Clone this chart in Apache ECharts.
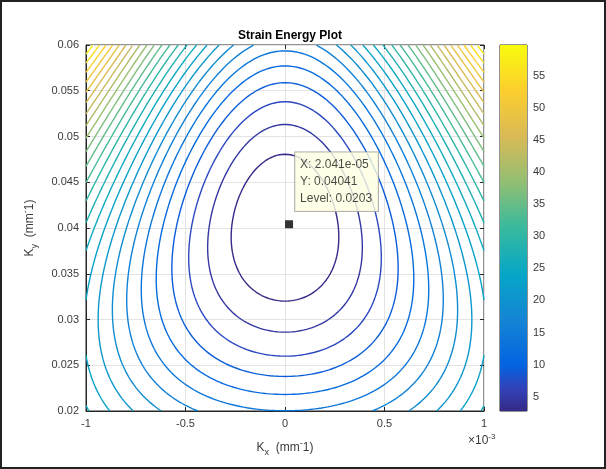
<!DOCTYPE html>
<html>
<head>
<meta charset="utf-8">
<script src="https://cdn.jsdelivr.net/npm/echarts@6/dist/echarts.min.js"></script>
<style>
html, body { margin: 0; padding: 0; background: #fff; }
#chart { width: 606px; height: 469px; }
</style>
</head>
<body>
<div id="chart"></div>
<script>
// Axis ranges and ticks
const kxRange = [-0.001, 0.001];
const kyRange = [0.02, 0.06];
const kxInterval = 0.0005;
const kyInterval = 0.005;
const colorbarTicks = [5, 10, 15, 20, 25, 30, 35, 40, 45, 50, 55];
const colorRange = [2.78, 59.8];

// Contour levels of the strain energy
const levels = [2.32, 4.62, 6.92, 9.22, 11.52, 13.82, 16.12, 18.42, 20.72, 23.02,
  25.32, 27.62, 29.92, 32.22, 34.52, 36.82, 39.12, 41.42, 43.72, 46.02,
  48.32, 50.62, 52.92, 55.22, 57.52, 59.82];

// Strain energy surface: W = energyMin + sum(coef * u^p * w^q)
// with u = Kx / 1e-3 and w = (Ky - kyRef) / kyScale
const energyMin = 0.0203;
const kyRef = 0.0401;
const kyScale = 0.02;
const termPowers = [[2, 0], [0, 2], [2, 1], [2, 2], [4, 0], [4, 1], [0, 3]];
const termCoefs = [32.4, 14.3, 21.9, 1.4, -5.2, -5.2, 0.6];

// Data cursor
const tipPoint = [2.041e-05, 0.04041];
const tipLevel = 0.0203;

// parula colour map
const parulaStops = ['#352a87', '#3243ba', '#0363e1', '#1485d4', '#06a7c6', '#38b99e',
  '#92bf73', '#d9ba56', '#fcce2e', '#f9fb0e'];
const parulaOffsets = [0, 0.0635, 0.125, 0.25, 0.375, 0.5, 0.625, 0.75, 0.875, 1];

function hexToRgb(h) {
  return [parseInt(h.slice(1, 3), 16), parseInt(h.slice(3, 5), 16), parseInt(h.slice(5, 7), 16)];
}
function parula(t) {
  t = Math.max(0, Math.min(1, t));
  let k = 0;
  while (k < parulaOffsets.length - 2 && t > parulaOffsets[k + 1]) k++;
  const f = (t - parulaOffsets[k]) / (parulaOffsets[k + 1] - parulaOffsets[k]);
  const a = hexToRgb(parulaStops[k]), b = hexToRgb(parulaStops[k + 1]);
  const c = a.map((v, i) => Math.round(v + (b[i] - v) * f));
  return 'rgb(' + c.join(',') + ')';
}

function energy(kx, ky) {
  const u = kx / 1e-3, w = (ky - kyRef) / kyScale;
  let s = energyMin;
  for (let t = 0; t < termPowers.length; t++) {
    s += termCoefs[t] * Math.pow(u, termPowers[t][0]) * Math.pow(w, termPowers[t][1]);
  }
  return s;
}

// Sample the surface on a regular mesh
const N = 240;
const xs = [], ys = [];
for (let i = 0; i <= N; i++) {
  xs.push(kxRange[0] + (kxRange[1] - kxRange[0]) * i / N);
  ys.push(kyRange[0] + (kyRange[1] - kyRange[0]) * i / N);
}
const Z = ys.map(y => xs.map(x => energy(x, y)));

// Marching squares, segments joined into polylines
function contourLines(level) {
  const segs = [];
  const pts = new Map();
  const hId = (i, j) => 2 * (j * (N + 1) + i);
  const vId = (i, j) => 2 * (j * (N + 1) + i) + 1;
  function ep(id, x0, y0, v0, x1, y1, v1) {
    if (!pts.has(id)) {
      const t = (level - v0) / (v1 - v0);
      pts.set(id, [x0 + t * (x1 - x0), y0 + t * (y1 - y0)]);
    }
    return id;
  }
  for (let j = 0; j < N; j++) {
    for (let i = 0; i < N; i++) {
      const va = Z[j][i], vb = Z[j][i + 1], vc = Z[j + 1][i + 1], vd = Z[j + 1][i];
      const cr = [];
      if ((va < level) !== (vb < level)) cr.push(ep(hId(i, j), xs[i], ys[j], va, xs[i + 1], ys[j], vb));
      if ((vb < level) !== (vc < level)) cr.push(ep(vId(i + 1, j), xs[i + 1], ys[j], vb, xs[i + 1], ys[j + 1], vc));
      if ((vd < level) !== (vc < level)) cr.push(ep(hId(i, j + 1), xs[i], ys[j + 1], vd, xs[i + 1], ys[j + 1], vc));
      if ((va < level) !== (vd < level)) cr.push(ep(vId(i, j), xs[i], ys[j], va, xs[i], ys[j + 1], vd));
      if (cr.length === 2) segs.push(cr);
      else if (cr.length === 4) {
        const center = (va + vb + vc + vd) / 4;
        if ((center < level) === (va < level)) { segs.push([cr[0], cr[1]]); segs.push([cr[2], cr[3]]); }
        else { segs.push([cr[0], cr[3]]); segs.push([cr[1], cr[2]]); }
      }
    }
  }
  const adj = new Map();
  segs.forEach((s, k) => s.forEach(e => { if (!adj.has(e)) adj.set(e, []); adj.get(e).push(k); }));
  const used = new Array(segs.length).fill(false);
  function trace(start) {
    const line = [pts.get(start)];
    let e = start;
    for (;;) {
      let k = -1;
      for (const s of adj.get(e)) if (!used[s]) { k = s; break; }
      if (k < 0) break;
      used[k] = true;
      const next = segs[k][0] === e ? segs[k][1] : segs[k][0];
      line.push(pts.get(next));
      e = next;
    }
    return line;
  }
  const lines = [];
  for (const [e, list] of adj) if (list.length === 1 && !used[list[0]]) lines.push(trace(e));
  for (let k = 0; k < segs.length; k++) if (!used[k]) lines.push(trace(segs[k][0]));
  return lines;
}

const FONT = '"Liberation Sans", Arial, Helvetica, sans-serif';
const AX = '#262626';
const TXT = '#3a3a3a';

const series = [];
levels.forEach(L => {
  const color = parula((L - colorRange[0]) / (colorRange[1] - colorRange[0]));
  contourLines(L).forEach(line => {
    series.push({
      type: 'line', xAxisIndex: 0, yAxisIndex: 0, data: line,
      showSymbol: false, symbol: 'none', silent: true, animation: false,
      lineStyle: { color: color, width: 1.4 }, z: 3
    });
  });
});

// Data cursor marker and its text box
series.push({
  type: 'scatter', xAxisIndex: 0, yAxisIndex: 0, data: [tipPoint],
  symbol: 'rect', symbolSize: 8, itemStyle: { color: '#000' }, silent: true, animation: false, z: 10,
  label: {
    show: true, position: [10, -68], align: 'left', verticalAlign: 'top',
    formatter: () => 'X: ' + tipPoint[0].toExponential(3).replace('e-', 'e-0') + '\nY: ' + tipPoint[1] + '\nLevel: ' + tipLevel,
    fontFamily: FONT, fontSize: 12, lineHeight: 17, color: '#1a1a1a',
    backgroundColor: '#ffffe1', borderColor: '#8c8c8c', borderWidth: 0.8, padding: [4, 6, 4, 5]
  }
});

// Colour bar fill
series.push({
  type: 'custom', xAxisIndex: 2, yAxisIndex: 2, data: [[0, colorRange[0], 1, colorRange[1]]],
  silent: true, animation: false,
  renderItem: (params, api) => {
    const p0 = api.coord([api.value(0), api.value(1)]);
    const p1 = api.coord([api.value(2), api.value(3)]);
    return {
      type: 'rect',
      shape: { x: p0[0], y: p1[1], width: p1[0] - p0[0], height: p0[1] - p1[1] },
      style: {
        fill: new echarts.graphic.LinearGradient(0, 1, 0, 0,
          parulaStops.map((c, i) => ({ offset: parulaOffsets[i], color: c })))
      }
    };
  }
});

const fmtKx = v => String(Math.round(v * 1e4) / 10);
const fmtKy = v => String(parseFloat(v.toFixed(3)));

const nameRich = {
  b: { fontSize: 12, fontFamily: FONT, color: TXT },
  s: { fontSize: 9, fontFamily: FONT, color: TXT, padding: [9, 0, 0, 0] },
  p: { fontSize: 9, fontFamily: FONT, color: TXT, padding: [0, 0, 8, 0] }
};

const option = {
  backgroundColor: '#fff',
  animation: false,
  title: {
    text: 'Strain Energy Plot', left: 285, top: 25, textAlign: 'center',
    textStyle: { fontFamily: FONT, fontSize: 12, fontWeight: 'bold', color: '#000' }
  },
  grid: [
    { left: 86, top: 45, width: 398, height: 366, show: true, borderColor: AX, borderWidth: 1, backgroundColor: '#fff' },
    { left: 500, top: 45, width: 27, height: 366, show: true, borderColor: AX, borderWidth: 1 }
  ],
  xAxis: [
    {
      type: 'value', gridIndex: 0, min: kxRange[0], max: kxRange[1], interval: kxInterval,
      axisLine: { show: true, onZero: false, lineStyle: { color: AX } },
      axisTick: { show: true, inside: true, length: 4, lineStyle: { color: AX } },
      axisLabel: { formatter: fmtKx, color: TXT, fontFamily: FONT, fontSize: 11, margin: 7 },
      splitLine: { show: true, lineStyle: { color: '#e3e3e3', width: 1 } },
      name: '{b|K}{s|x}{b|  (mm}{p|-}{b|1)}', nameLocation: 'middle', nameGap: 28,
      nameTextStyle: { color: TXT, fontFamily: FONT, rich: nameRich }
    },
    {
      type: 'value', gridIndex: 0, position: 'top', min: kxRange[0], max: kxRange[1], interval: kxInterval,
      axisLine: { show: false, onZero: false }, axisTick: { show: true, inside: true, length: 4, lineStyle: { color: AX } },
      axisLabel: { show: false }, splitLine: { show: false }
    },
    { type: 'value', gridIndex: 1, min: 0, max: 1, show: false }
  ],
  yAxis: [
    {
      type: 'value', gridIndex: 0, min: kyRange[0], max: kyRange[1], interval: kyInterval,
      axisLine: { show: true, onZero: false, lineStyle: { color: AX } },
      axisTick: { show: true, inside: true, length: 4, lineStyle: { color: AX } },
      axisLabel: { formatter: fmtKy, color: TXT, fontFamily: FONT, fontSize: 11, margin: 7 },
      splitLine: { show: true, lineStyle: { color: '#e3e3e3', width: 1 } },
      name: '{b|K}{s|y}{b|  (mm}{p|-}{b|1)}', nameLocation: 'middle', nameGap: 47, nameRotate: 90,
      nameTextStyle: { color: TXT, fontFamily: FONT, rich: nameRich }
    },
    {
      type: 'value', gridIndex: 0, position: 'right', min: kyRange[0], max: kyRange[1], interval: kyInterval,
      axisLine: { show: false, onZero: false }, axisTick: { show: true, inside: true, length: 4, lineStyle: { color: AX } },
      axisLabel: { show: false }, splitLine: { show: false }
    },
    {
      type: 'value', gridIndex: 1, position: 'right', min: colorRange[0], max: colorRange[1],
      axisLine: { show: false, onZero: false },
      axisTick: { show: true, inside: true, length: 3, customValues: colorbarTicks, lineStyle: { color: AX } },
      axisLabel: { show: true, customValues: colorbarTicks, color: TXT, fontFamily: FONT, fontSize: 11, margin: 6 },
      splitLine: { show: false }
    }
  ],
  graphic: [
    {
      type: 'text', left: 468, top: 433, silent: true,
      style: {
        text: '{b|\u00d710}{p|-3}', fontFamily: FONT,
        rich: {
          b: { fontSize: 12, fontFamily: FONT, fill: TXT },
          p: { fontSize: 8, fontFamily: FONT, fill: TXT, padding: [0, 0, 8, 0] }
        }
      }
    },
    {
      type: 'rect', silent: true, z: 100,
      shape: { x: 1, y: 1, width: 604, height: 467 },
      style: { fill: 'none', stroke: '#222', lineWidth: 2 }
    }
  ],
  series: series
};

const chart = echarts.init(document.getElementById('chart'), null, { renderer: 'canvas' });
chart.setOption(option);
</script>
</body>
</html>
